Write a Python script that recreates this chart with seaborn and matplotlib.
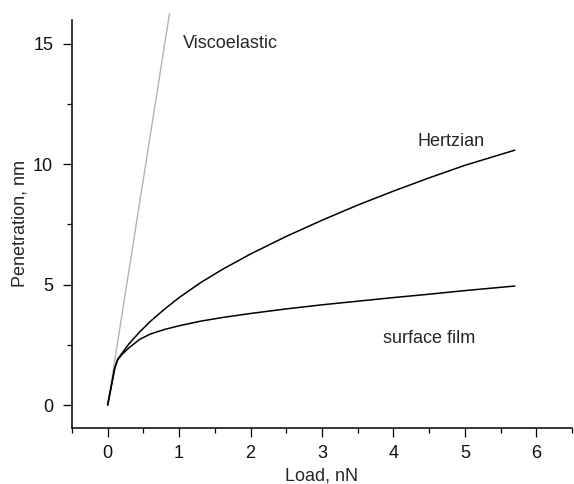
import matplotlib
matplotlib.use("Agg")
import matplotlib.pyplot as plt
import seaborn as sns
import pandas as pd
from matplotlib.ticker import MultipleLocator

# Load (nN) sampled along the indentation curves
load = [0, 0.1, 0.14, 0.2, 0.3, 0.45, 0.6, 0.8, 1.0, 1.3, 1.6, 2.0, 2.5,
        3.0, 3.5, 4.0, 4.5, 5.0, 5.7]
# Penetration (nm) for each model
hertzian = [0, 1.55, 1.9, 2.15, 2.55, 3.04, 3.48, 3.99, 4.46, 5.08, 5.62,
            6.27, 7.0, 7.67, 8.3, 8.88, 9.43, 9.95, 10.58]
surface_film = [0, 1.55, 1.88, 2.1, 2.38, 2.73, 2.95, 3.14, 3.29, 3.48, 3.63,
                3.8, 3.99, 4.16, 4.31, 4.46, 4.6, 4.75, 4.94]
# Viscoelastic response is a straight line
visco_load = [0, 0.865]
visco_pen = [0, 16.25]

sns.set_style("ticks")
plt.rcParams["font.family"] = ["Liberation Sans", "DejaVu Sans"]
plt.rcParams["font.size"] = 13

df = pd.DataFrame({"load": load, "hertzian": hertzian, "film": surface_film})
dv = pd.DataFrame({"load": visco_load, "pen": visco_pen})

fig = plt.figure(figsize=(5.74, 4.84), dpi=100)
ax = fig.add_axes([0.1254, 0.1159, 0.8711, 0.8436])

sns.lineplot(data=dv, x="load", y="pen", ax=ax, color="#b4b4b4", lw=1.0,
             sort=False, estimator=None, clip_on=False)
sns.lineplot(data=df, x="load", y="hertzian", ax=ax, color="black", lw=1.1,
             sort=False, estimator=None)
sns.lineplot(data=df, x="load", y="film", ax=ax, color="black", lw=1.1,
             sort=False, estimator=None)

ax.set_xlim(-0.5, 6.5)
ax.set_ylim(-0.95, 16)
ax.xaxis.set_major_locator(MultipleLocator(1))
ax.xaxis.set_minor_locator(MultipleLocator(0.5))
ax.yaxis.set_major_locator(MultipleLocator(5))
ax.yaxis.set_minor_locator(MultipleLocator(2.5))
ax.tick_params(which="major", length=6.5, width=0.9, labelsize=13,
               color="black", labelcolor="#111111")
ax.tick_params(axis="x", which="major", pad=6)
ax.tick_params(axis="y", which="major", pad=7)
ax.tick_params(which="minor", length=3.5, width=0.9, color="black")
for side in ("top", "right"):
    ax.spines[side].set_visible(False)
for side in ("left", "bottom"):
    ax.spines[side].set_linewidth(1.1)
    ax.spines[side].set_color("black")

ax.set_xlabel("Load, nN", fontsize=13, labelpad=4)
ax.set_ylabel("Penetration, nm", fontsize=13, labelpad=3)

ax.text(1.05, 15.0, "Viscoelastic", fontsize=13, va="center", ha="left")
ax.text(4.34, 10.96, "Hertzian", fontsize=13, va="center", ha="left")
ax.text(3.85, 2.78, "surface film", fontsize=13, va="center", ha="left")

fig.savefig("out.png", dpi=100)
